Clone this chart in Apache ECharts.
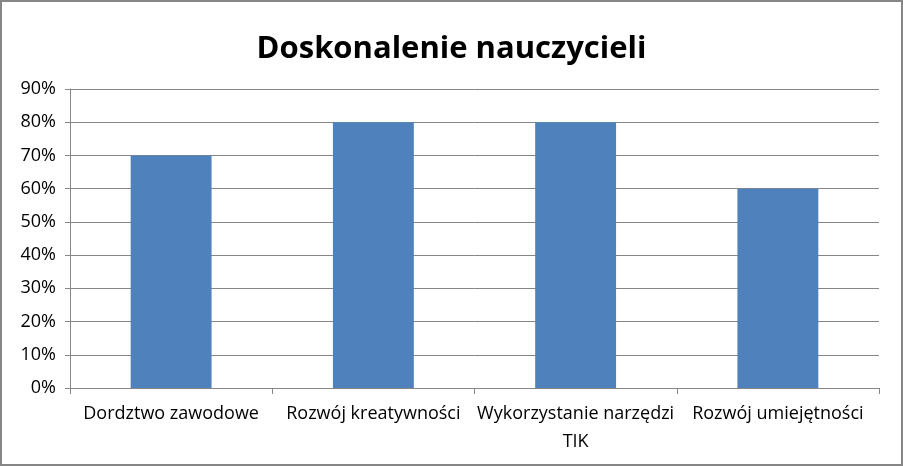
<!DOCTYPE html>
<html><head><meta charset="utf-8">
<script src="https://cdn.jsdelivr.net/npm/echarts@6/dist/echarts.min.js"></script>
<style>html,body{margin:0;padding:0;background:#fff}#c{width:903px;height:466px;box-sizing:border-box;border:2px solid #868686}</style>
</head><body><div id="c"></div>
<script>
const title = 'Doskonalenie nauczycieli';
const categories = ['Dordztwo zawodowe', 'Rozwój kreatywności', 'Wykorzystanie narzędzi\nTIK', 'Rozwój umiejętności'];
const values = [70, 80, 80, 60];
const yTicks = [0, 10, 20, 30, 40, 50, 60, 70, 80, 90];

const chart = echarts.init(document.getElementById('c'), null, {renderer: 'canvas'});
chart.setOption({
  animation: false,
  title: {text: title, left: 'center', top: 27, textStyle: {fontFamily: 'Open Sans', fontWeight: 'bold', fontSize: 31, color: '#000'}},
  grid: {left: 68, right: 22, top: 87, bottom: 76},
  xAxis: {type: 'category', data: categories,
    axisLine: {lineStyle: {color: '#868686', width: 1}},
    axisTick: {show: true, length: 6, lineStyle: {color: '#868686'}},
    axisLabel: {color: '#000', fontFamily: 'Open Sans', fontSize: 18, margin: 12, interval: 0, lineHeight: 28}},
  yAxis: {type: 'value', min: 0, max: 90, interval: 10,
    axisLine: {show: true, lineStyle: {color: '#868686'}},
    axisTick: {show: true, length: 5, lineStyle: {color: '#868686'}},
    splitLine: {lineStyle: {color: '#868686'}},
    axisLabel: {color: '#000', fontFamily: 'Open Sans', fontSize: 18, margin: 14, formatter: v => yTicks.includes(v) ? v + '%' : ''}},
  series: [{type: 'bar', data: values, barWidth: '40%', itemStyle: {color: '#4F81BD'}}]
});
</script></body></html>
